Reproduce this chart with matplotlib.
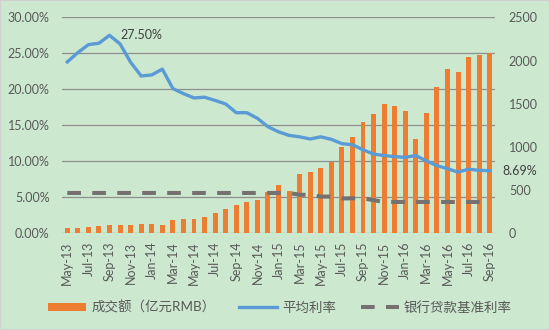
import matplotlib
matplotlib.use("Agg")
import matplotlib.pyplot as plt
import pandas as pd
from matplotlib.ticker import FuncFormatter, MultipleLocator
from matplotlib.patches import Rectangle

plt.rcParams['font.family'] = ['Lato', 'Noto Sans CJK SC', 'DejaVu Sans']

# monthly categories May-13 .. Sep-16
months = list(pd.date_range('2013-05-01', periods=41, freq='MS').strftime('%b-%y'))

# 成交额 (亿元RMB), right axis
volume = [58, 58, 76, 84, 100, 100, 100, 111, 111, 100,
          154, 162, 169, 193, 239, 278, 330, 362, 385, 478,
          556, 486, 683, 713, 756, 825, 995, 1115, 1288, 1384,
          1493, 1477, 1419, 1088, 1392, 1697, 1905, 1867, 2041, 2060,
          2083]

# 平均利率 (%), left axis
avg_rate = [23.8, 25.1, 26.2, 26.4, 27.5, 26.3, 23.75, 21.85, 22.0, 22.8,
            20.1, 19.4, 18.8, 18.9, 18.45, 17.96, 16.75, 16.75, 15.97, 14.8,
            14.1, 13.6, 13.4, 13.1, 13.4, 13.05, 12.45, 12.3, 11.6, 11.0,
            10.8, 10.65, 10.55, 10.8, 10.05, 9.4, 8.98, 8.5, 8.9, 8.75,
            8.69]

# 银行贷款基准利率 (%), left axis
bench_rate = [5.6, 5.6, 5.6, 5.6, 5.6, 5.6, 5.6, 5.6, 5.6, 5.6,
              5.6, 5.6, 5.6, 5.6, 5.6, 5.6, 5.6, 5.6, 5.6, 5.6,
              5.6, 5.6, 5.35, 5.35, 5.1, 5.1, 4.85, 4.85, 4.85, 4.6,
              4.35, 4.35, 4.35, 4.35, 4.35, 4.35, 4.35, 4.35, 4.35, 4.35,
              4.35]

BG = '#CCE8CF'
TXT = '#595959'
ORANGE = '#ED7D31'
BLUE = '#5B9BD5'
GREY = '#767171'

fig = plt.figure(figsize=(5.5, 3.3), dpi=100, facecolor=BG)
fig.patches.append(Rectangle((0, 0), 1, 1, transform=fig.transFigure,
                             fill=False, ec='#d0d0d0', lw=1.5))

rect = [62 / 550, 1 - 233.3 / 330, (495 - 62) / 550, (233.3 - 17.3) / 330]
base = fig.add_axes(rect, facecolor=BG)
bar_ax = base.twinx()
line_ax = base.twinx()

x = list(range(len(months)))

# left axis + grid
base.set_ylim(0, 30)
base.yaxis.set_major_locator(MultipleLocator(5))
base.yaxis.set_major_formatter(FuncFormatter(lambda v, p: f'{v:.2f}%'))
base.grid(axis='y', color='#8f8f8f', lw=0.9)
base.set_axisbelow(True)
base.set_xlim(-0.5, len(months) - 0.5)
base.set_xticks(x[::2])
base.set_xticklabels(months[::2], rotation=90)
base.tick_params(axis='x', length=0, pad=6, labelsize=9, labelcolor=TXT)
base.tick_params(axis='y', length=0, pad=9, labelsize=9, labelcolor=TXT)

# bars on right axis
bar_ax.bar(x, volume, width=0.47, color=ORANGE, label='成交额（亿元RMB）')
bar_ax.set_ylim(0, 2500)
bar_ax.yaxis.set_major_locator(MultipleLocator(500))
bar_ax.tick_params(axis='y', length=0, pad=10, labelsize=9, labelcolor=TXT)

# lines on top
line_ax.plot(x, avg_rate, color=BLUE, lw=2.4, label='平均利率')
line_ax.plot(x, bench_rate, color=GREY, lw=2.9, dashes=(3.4, 2.8),
             label='银行贷款基准利率')
line_ax.set_ylim(0, 30)
line_ax.set_yticks([])

line_ax.annotate('27.50%', (4, avg_rate[4]), xytext=(8, 0),
                 textcoords='offset points', ha='left', va='center',
                 fontsize=9, color='#404040')
line_ax.annotate('8.69%', (40, avg_rate[40]), xytext=(9, 0),
                 textcoords='offset points', ha='left', va='center',
                 fontsize=9, color='#404040', annotation_clip=False)

for a in (base, bar_ax, line_ax):
    for s in a.spines.values():
        s.set_visible(False)

h1, l1 = bar_ax.get_legend_handles_labels()
h2, l2 = line_ax.get_legend_handles_labels()
fig.legend(h1 + h2, l1 + l2, loc='center', bbox_to_anchor=(0.509, 1 - 307 / 330),
           ncol=3, frameon=False, fontsize=9.7, labelcolor=TXT,
           handlelength=2.8, handleheight=0.5, columnspacing=1.8,
           handletextpad=0.4)

fig.savefig('out.png', dpi=100, facecolor=BG)
